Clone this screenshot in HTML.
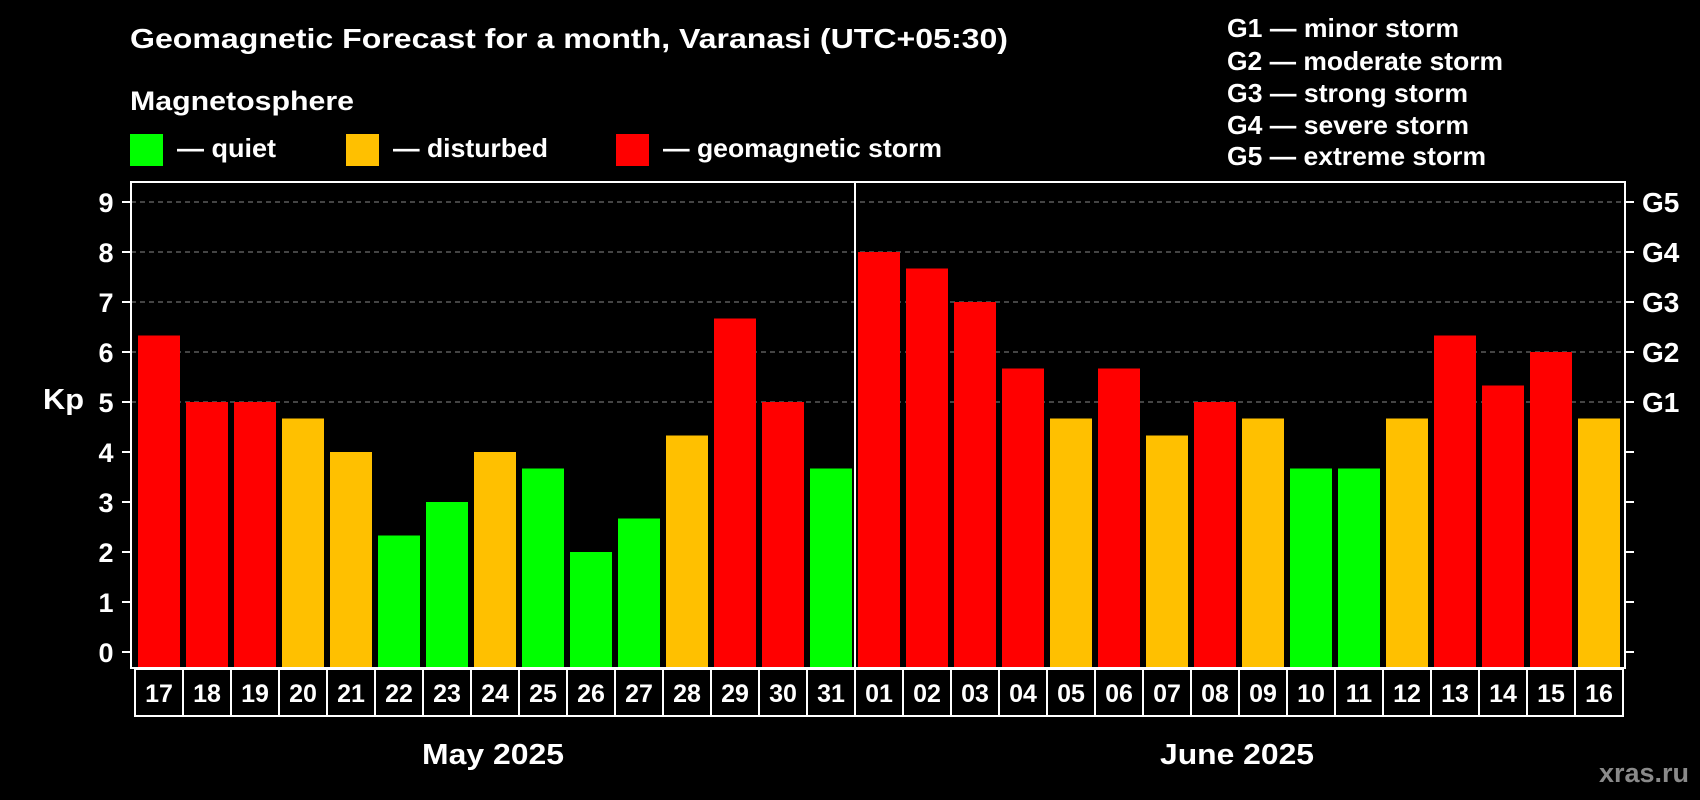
<!DOCTYPE html>
<html><head><meta charset="utf-8"><style>
html,body{margin:0;padding:0;background:#000;}
svg{display:block;font-family:"Liberation Sans",sans-serif;font-weight:bold;}
</style></head><body>
<svg id="chart" width="1700" height="800" viewBox="0 0 1700 800">
<text x="130" y="48" fill="#fff" font-size="28" textLength="878" lengthAdjust="spacingAndGlyphs">Geomagnetic Forecast for a month, Varanasi (UTC+05:30)</text>
<text x="130" y="110" fill="#fff" font-size="27" textLength="224" lengthAdjust="spacingAndGlyphs">Magnetosphere</text>
<rect x="130" y="134" width="33" height="32" fill="#00ff00"/>
<text x="177" y="157" fill="#fff" font-size="26" textLength="99" lengthAdjust="spacingAndGlyphs">— quiet</text>
<rect x="346" y="134" width="33" height="32" fill="#ffc000"/>
<text x="393" y="157" fill="#fff" font-size="26" textLength="155" lengthAdjust="spacingAndGlyphs">— disturbed</text>
<rect x="616" y="134" width="33" height="32" fill="#ff0000"/>
<text x="663" y="157" fill="#fff" font-size="26" textLength="279" lengthAdjust="spacingAndGlyphs">— geomagnetic storm</text>
<g font-size="26" fill="#fff">
<text x="1227" y="37" textLength="232" lengthAdjust="spacingAndGlyphs">G1 — minor storm</text>
<text x="1227" y="70" textLength="276" lengthAdjust="spacingAndGlyphs">G2 — moderate storm</text>
<text x="1227" y="102" textLength="241" lengthAdjust="spacingAndGlyphs">G3 — strong storm</text>
<text x="1227" y="134" textLength="242" lengthAdjust="spacingAndGlyphs">G4 — severe storm</text>
<text x="1227" y="165" textLength="259" lengthAdjust="spacingAndGlyphs">G5 — extreme storm</text>
</g>
<text x="43" y="409" fill="#fff" font-size="29" textLength="41" lengthAdjust="spacingAndGlyphs">Kp</text>
<g id="grid"></g><g id="bars"></g><g id="axes"></g><g id="dates"></g>
<text x="493" y="764" fill="#fff" font-size="29" text-anchor="middle" textLength="142" lengthAdjust="spacingAndGlyphs">May 2025</text>
<text x="1237" y="764" fill="#fff" font-size="29" text-anchor="middle" textLength="154" lengthAdjust="spacingAndGlyphs">June 2025</text>
<text x="1689" y="782" fill="#8a8a8a" font-size="27" text-anchor="end">xras.ru</text>
</svg>
<script>
const days=["17","18","19","20","21","22","23","24","25","26","27","28","29","30","31","01","02","03","04","05","06","07","08","09","10","11","12","13","14","15","16"];
const kp=[6.33,5,5,4.67,4,2.33,3,4,3.67,2,2.67,4.33,6.67,5,3.67,8,7.67,7,5.67,4.67,5.67,4.33,5,4.67,3.67,3.67,4.67,6.33,5.33,6,4.67];
const yTicks=[0,1,2,3,4,5,6,7,8,9];
const gLabels=["G1","G2","G3","G4","G5"];
const NS="http://www.w3.org/2000/svg";
const L=131,R=1625,T=182,B=668;
function y(v){return 652-v*50;}
function xc(i){return 159+48*i;}
function mk(tag,attrs,parent){const e=document.createElementNS(NS,tag);for(const k in attrs)e.setAttribute(k,attrs[k]);parent.appendChild(e);return e;}
const grid=document.getElementById('grid'),bars=document.getElementById('bars'),axes=document.getElementById('axes'),dates=document.getElementById('dates');
yTicks.forEach(v=>{
  if(v>=5){const g=mk('line',{x1:L,x2:R,y1:y(v),y2:y(v),stroke:'#888','stroke-dasharray':'5,4','stroke-width':1},grid);
  
  }
  const t1=mk('line',{x1:L-9,x2:L,y1:y(v),y2:y(v),stroke:'#fff','stroke-width':2},axes);
  
  
  const t2=mk('line',{x1:R,x2:R+9,y1:y(v),y2:y(v),stroke:'#fff','stroke-width':2},axes);
  
  
  const tl=mk('text',{x:106,y:y(v)+10,fill:'#fff','font-size':27,'text-anchor':'middle'},axes);
  tl.textContent=v;
  
  
});
gLabels.forEach((g,i)=>{
  const t=mk('text',{x:1642,y:y(5+i)+10,fill:'#fff','font-size':28},axes);
  t.textContent=g;
  
  
});
kp.forEach((v,i)=>{
  const col=v>=5?'#ff0000':(v>=4?'#ffc000':'#00ff00');
  const b=mk('rect',{x:xc(i)-21,y:y(v),width:42,height:B-y(v),fill:col},bars);
  
  
  const r=mk('rect',{x:xc(i)-24,y:669,width:48,height:47,fill:'none',stroke:'#fff','stroke-width':2},dates);
  
  
  const t=mk('text',{x:xc(i),y:702,fill:'#fff','font-size':25,'text-anchor':'middle'},dates);
  t.textContent=days[i];
  
  
});
const fr=mk('rect',{x:L,y:T,width:R-L,height:B-T,fill:'none',stroke:'#fff','stroke-width':2},axes);


const sep=mk('line',{x1:xc(14)+24,x2:xc(14)+24,y1:T,y2:B,stroke:'#fff','stroke-width':2},axes);


</script>
</body></html>
